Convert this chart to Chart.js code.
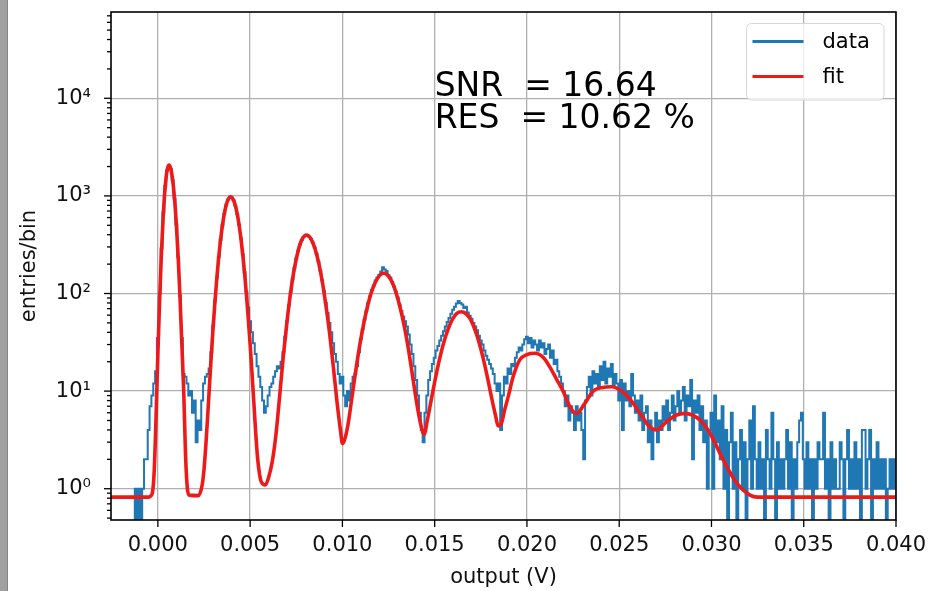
<!DOCTYPE html>
<html><head><meta charset="utf-8">
<script src="https://cdn.jsdelivr.net/npm/chart.js@4/dist/chart.umd.min.js"></script>
<style>
html,body{margin:0;padding:0;background:#fff;}
#wrap{position:relative;width:929px;height:591px;overflow:hidden;background:#fff;}
#bar{position:absolute;left:0;top:0;width:7px;height:591px;background:#a0a0a0;border-right:1px solid #858585;}
canvas{position:absolute;left:0;top:0;filter:blur(0.4px);}
</style></head><body>
<div id="wrap"><canvas id="c" width="929" height="591"></canvas><div id="bar"></div></div>
<script>
// ---------------- data ----------------
const binStart = -0.0025;          // V, first bin centre
const binWidth = 0.0001;           // V
// entries per bin, rows of 0.1 mV bins
const dataCounts = [
  0,0,0,0,0,                                   // -2.5 .. -2.1 mV
  0,0,0,0,0,0,0,0,1,0,                         // -2.0 .. -1.1
  1,0,1,2,2,4,7,9,12,16,                       // -1.0 .. -0.1
  35,100,290,680,1260,1830,2050,1890,1450,940, // 0.0 .. 0.9
  510,235,95,35,15,14,12,9,10,6,               // 1.0
  8,3,5,4,8,12,14,15,17,25,                    // 2.0
  47,85,146,236,355,500,655,800,912,972,       // 3.0
  965,902,792,652,506,368,253,165,104,72,      // 4.0
  52,40,31,24,18,14,11,8,6,7,                  // 5.0
  9,11,12,14,16,18,17,20,25,36,                // 6.0
  52,76,104,140,182,228,272,318,353,380,       // 7.0
  394,396,382,362,330,294,255,213,172,137,     // 8.0
  106,80,63,50,40,31,24,20,15,12,              // 9.0
  14,9,7,10,8,12,14,15,18,25,                  // 10.0
  34,43,54,66,80,94,108,121,136,146,           // 11.0
  156,168,186,176,170,154,146,131,118,104,     // 12.0
  91,77,66,58,52,46,38,30,24,18,               // 13.0
  13,9,6,4,3,6,9,13,16,19,                     // 14.0
  22,26,29,33,37,41,46,51,56,62,               // 15.0
  68,73,79,84,80,77,71,73,64,59,               // 16.0
  55,50,46,42,37,33,30,26,23,21,               // 17.0
  19,17,15,12,10,12,4,9,14,12,                 // 18.0
  17,15,19,18,22,25,28,26,30,34,               // 19.0
  36,31,35,28,33,30,26,33,28,31,               // 20.0
  24,27,30,22,26,19,21,16,14,12,               // 21.0
  10,7,9,5,7,6,4,7,5,6,                        // 22.0
  4,2,8,11,14,9,16,12,15,11,                   // 23.0
  18,13,20,12,17,14,19,11,15,12,               // 24.0
  8,13,4,12,8,10,7,15,9,6,                     // 25.0
  8,5,9,4,6,7,3,5,2,4,                         // 26.0
  6,3,5,4,7,5,8,4,6,9,                         // 27.0
  5,7,10,6,8,11,5,9,7,13,                      // 28.0
  2,8,6,9,4,7,3,5,1,4,                         // 29.0
  6,1,9,3,5,2,7,1,4,0,                         // 30.0
  3,6,1,3,0,2,4,1,3,0,                         // 31.0
  2,5,1,7,2,1,3,1,2,0,                         // 32.0
  4,2,1,6,2,0,3,1,2,1,                         // 33.0
  2,4,1,3,0,2,1,3,5,6,                         // 34.0
  2,1,3,1,2,0,2,1,3,2,                         // 35.0
  2,6,1,2,0,3,1,2,1,1,                         // 36.0
  3,2,0,2,4,1,2,1,3,1,                         // 37.0
  2,0,4,4,1,2,4,0,2,1,                         // 38.0
  3,1,2,1,2,0,1,2,1,2,                         // 39.0
  1                                            // 40.0
];
// fit curve (x in mV, entries/bin)
const fitXmV = [-2.54,-0.5,-0.4,-0.3,-0.2,-0.1,0.0,0.1,0.2,0.3,0.4,0.5,0.6,0.7,0.8,0.9,1.0,1.1,1.2,1.3,1.4,1.5,1.6,1.7,
  2.2,2.4,2.5,2.6,2.7,2.8,2.9,3.0,3.1,3.2,3.3,3.4,3.5,3.6,3.7,3.8,3.94,4.1,4.2,4.3,4.4,4.5,4.6,4.7,4.8,4.9,5.0,5.1,5.2,5.3,5.4,5.5,5.6,5.82,
  6.0,6.2,6.4,6.6,6.8,7.0,7.2,7.4,7.6,7.8,8.05,8.3,8.5,8.7,8.9,9.1,9.3,9.5,9.7,9.9,10.0,10.1,10.3,10.5,10.7,10.9,11.1,11.3,11.5,11.7,11.9,12.1,12.24,
  12.4,12.6,12.8,13.0,13.2,13.4,13.6,13.8,14.0,14.2,14.43,14.6,14.8,15.0,15.2,15.4,15.6,15.8,16.0,16.2,16.45,16.7,16.9,17.1,17.3,17.5,17.7,17.9,
  18.1,18.3,18.44,18.6,18.8,19.0,19.25,19.6,20.0,20.43,20.9,21.23,21.6,21.96,22.33,22.69,23.1,23.59,24.1,24.59,25.2,25.76,26.3,26.6,27.03,27.57,
  28.11,28.56,29.38,29.92,30.64,31.37,32.09,32.5,40.0];
const fitCounts = [0.82,0.82,0.84,0.9,1.5,5.3,24,91,280,672,1255,1827,2070,1898,1463,948,516,236,91,30,10,2.2,1.0,0.86,
  0.85,1.09,1.57,2.8,5.6,11.7,24,47,85,147,237,357,501,657,803,915,980,905,794,654,507,368,251,161,97,55,30,15.5,7.7,3.8,2.1,1.45,1.18,1.09,
  1.3,1.9,3.6,8.9,23,52,104,182,273,354,397,362,294,212,136,77,40,18.4,8.0,3.9,2.9,3.1,4.5,8.2,15.1,26.6,43.5,66,93,120,143,158,161,
  157,141,117,89,63,41.6,25.3,14.4,8.1,5.0,3.6,5.0,7.9,12.4,18.8,27.1,36.7,46.8,55.9,62.6,65,62,55.9,46.8,36.7,27.1,19,12.7,
  8.3,5.6,4.4,4.6,6.5,9,14,20.8,23.7,24.4,22,17.8,13.3,10,6.9,5.9,7.3,10,10.9,11.1,9.8,7.5,5.3,4.4,4.0,4.86,
  5.69,5.92,5.05,3.7,1.97,1.14,0.86,0.82,0.82];
const seriesLabels = ['data', 'fit'];
const xTickValues = [0.000, 0.005, 0.010, 0.015, 0.020, 0.025, 0.030, 0.035, 0.040];
const yMajorValues = [1, 10, 100, 1000, 10000];
const xAxisTitle = 'output (V)';
const yAxisTitle = 'entries/bin';
const annotationLines = ['SNR  = 16.64', 'RES  = 10.62 %'];
const annotationAt = {x: 0.015, y: 5000};
const xRange = [-0.00254, 0.040];
const yRange = [0.478, 76600];

// ---------------- chart ----------------
const FONT = 'DejaVu Sans';
const mV = 0.001;
const dataPts = dataCounts.map((c, i) => ({x: binStart + i * binWidth, y: c > 0 ? c : 1e-3}));
const fitPts = fitXmV.map((x, i) => ({x: x * mV, y: fitCounts[i]}));
const sup = {'-1': '⁻¹', '0': '⁰', '1': '¹', '2': '²', '3': '³', '4': '⁴', '5': '⁵'};
const noPad = s => { s.paddingTop = 0; s.paddingBottom = 0; s.paddingLeft = 0; s.paddingRight = 0; };

const overlay = {
  id: 'overlay',
  afterDatasetsDraw(chart) {
    const {ctx, chartArea: a, scales: {x, y}} = chart;
    ctx.save();
    // tick marks
    ctx.strokeStyle = '#000';
    ctx.lineWidth = 1.3;
    x.ticks.forEach(t => {
      const px = x.getPixelForValue(t.value);
      ctx.beginPath(); ctx.moveTo(px, a.bottom); ctx.lineTo(px, a.bottom + 7); ctx.stroke();
    });
    y.ticks.forEach(t => {
      const py = y.getPixelForValue(t.value);
      const len = t.major ? 7 : 4;
      ctx.beginPath(); ctx.moveTo(a.left - len, py); ctx.lineTo(a.left, py); ctx.stroke();
    });
    // frame
    ctx.lineWidth = 1.6;
    ctx.strokeRect(a.left, a.top, a.right - a.left, a.bottom - a.top);
    // annotation text
    ctx.fillStyle = '#000';
    ctx.font = '33px "' + FONT + '"';
    ctx.textAlign = 'left';
    ctx.textBaseline = 'alphabetic';
    const tx = x.getPixelForValue(annotationAt.x);
    const ty = y.getPixelForValue(annotationAt.y);
    ctx.fillText(annotationLines[0], tx, ty - 31.5);
    ctx.fillText(annotationLines[1], tx, ty);
    // legend
    const bw = 137.5, bh = 76.5;
    const bx = a.right - 12 - bw, by = a.top + 11.5;
    ctx.beginPath();
    ctx.roundRect(bx, by, bw, bh, 5);
    ctx.fillStyle = 'rgba(255,255,255,0.8)';
    ctx.fill();
    ctx.strokeStyle = '#d6d6d6';
    ctx.lineWidth = 1;
    ctx.stroke();
    ctx.font = '21px "' + FONT + '"';
    const dss = chart.data.datasets;
    const rows = [{ds: dss[1], yl: by + 18}, {ds: dss[0], yl: by + 53}];
    rows.forEach(r => {
      ctx.strokeStyle = r.ds.borderColor;
      ctx.lineWidth = 3.2;
      ctx.beginPath(); ctx.moveTo(bx + 6, r.yl); ctx.lineTo(bx + 57, r.yl); ctx.stroke();
      ctx.fillStyle = '#000';
      ctx.textBaseline = 'middle';
      ctx.fillText(r.ds.label, bx + 76, r.yl + 1);
    });
    ctx.restore();
  }
};

new Chart(document.getElementById('c'), {
  type: 'line',
  data: {
    datasets: [
      {label: seriesLabels[1], data: fitPts, borderColor: '#ee1a1a', borderWidth: 3.6,
       cubicInterpolationMode: 'monotone', pointRadius: 0, clip: 0, order: 1,
       borderJoinStyle: 'round', borderCapStyle: 'round'},
      {label: seriesLabels[0], data: dataPts, borderColor: '#1f77b4', borderWidth: 2.0,
       stepped: 'middle', pointRadius: 0, clip: 0, order: 2, borderJoinStyle: 'miter'}
    ]
  },
  options: {
    responsive: false, animation: false, devicePixelRatio: 1,
    layout: {autoPadding: false, padding: {left: 0, top: 12, right: 33, bottom: 0}},
    plugins: {legend: {display: false}, tooltip: {enabled: false}, title: {display: false}},
    elements: {point: {radius: 0}},
    scales: {
      x: {
        type: 'linear', min: xRange[0], max: xRange[1],
        afterBuildTicks: s => { s.ticks = xTickValues.map(v => ({value: v})); },
        afterFit: s => { s.height = 71; noPad(s); },
        ticks: {callback: v => v.toFixed(3), font: {family: FONT, size: 21}, color: '#111',
                padding: 13, maxRotation: 0, autoSkip: false},
        grid: {color: '#b0b0b0', lineWidth: 1.3, drawTicks: false},
        border: {display: false},
        title: {display: true, text: xAxisTitle, font: {family: FONT, size: 21}, color: '#111',
                padding: {top: 0, bottom: 1}}
      },
      y: {
        type: 'logarithmic', min: yRange[0], max: yRange[1],
        afterBuildTicks: s => {
          const t = [];
          for (let e = -1; e <= 4; e++) {
            for (let m = 1; m <= 9; m++) {
              const v = m * Math.pow(10, e);
              if (v >= yRange[0] && v <= yRange[1]) t.push({value: v, major: m === 1 && yMajorValues.includes(v)});
            }
          }
          s.ticks = t;
        },
        afterFit: s => { s.width = 111; noPad(s); },
        ticks: {
          callback: (v, i, ticks) => ticks[i] && ticks[i].major ? '10' + sup[String(Math.round(Math.log10(v)))] : '',
          font: {family: FONT, size: 21}, color: '#111', padding: 20, autoSkip: false
        },
        grid: {color: c => (c.tick && c.tick.major) ? '#b0b0b0' : 'rgba(0,0,0,0)', lineWidth: 1.3, drawTicks: false},
        border: {display: false},
        title: {display: true, text: yAxisTitle, font: {family: FONT, size: 21}, color: '#111',
                padding: {top: 17, bottom: 0}}
      }
    }
  },
  plugins: [overlay]
});
</script>
</body></html>
